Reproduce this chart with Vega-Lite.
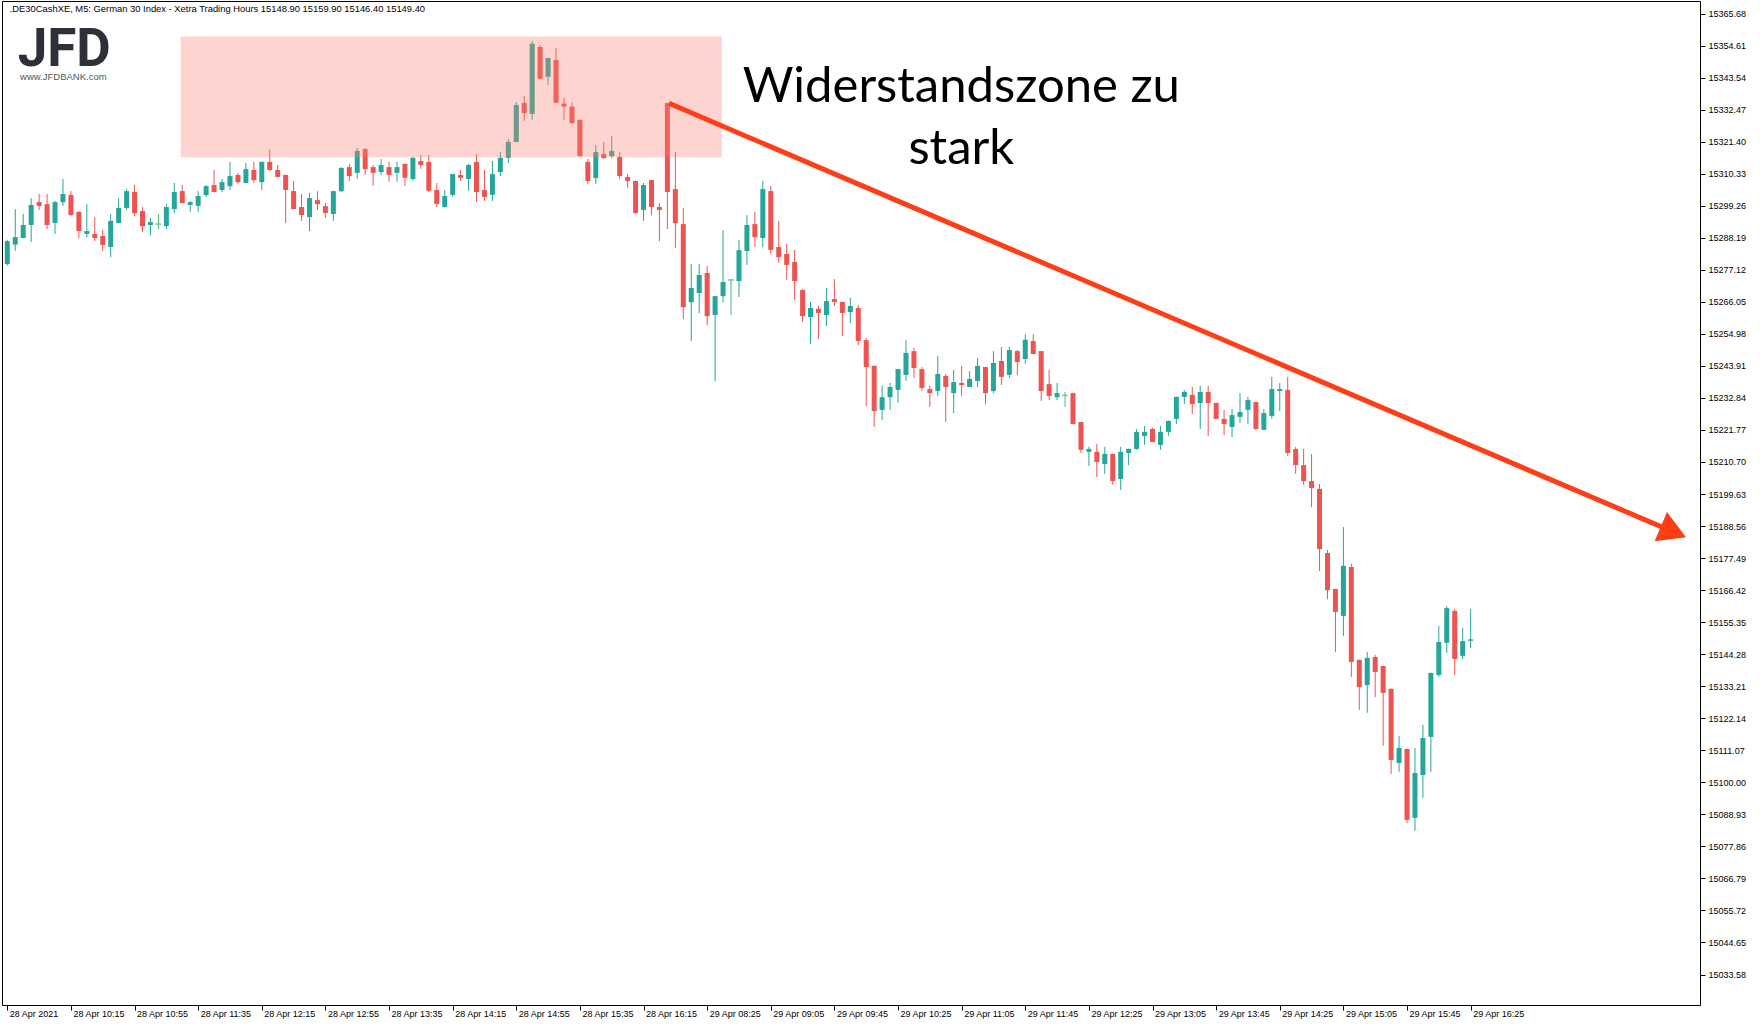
{
"$schema":"https://vega.github.io/schema/vega-lite/v6.json",
"width":1698,"height":1004,
"autosize":{"type":"none"},
"padding":{"left":2,"top":1,"right":60,"bottom":21},
"background":"white",
"config":{"view":{"stroke":"#000","strokeWidth":1},"axis":{"labelFont":"Liberation Sans","labelFontSize":9,"labelColor":"#000","tickColor":"#000","grid":false,"domain":false,"labelOverlap":false}},
"resolve":{"axis":{"x":"independent","y":"independent"}},
"data":{"values":[
{"i":0,"o":15279.1,"h":15287.5,"l":15278.6,"c":15287.0},
{"i":1,"o":15285.8,"h":15298.1,"l":15283.7,"c":15288.4},
{"i":2,"o":15288.1,"h":15296.4,"l":15288.0,"c":15292.6},
{"i":3,"o":15292.6,"h":15301.9,"l":15286.7,"c":15299.5},
{"i":4,"o":15300.5,"h":15303.3,"l":15297.8,"c":15299.2},
{"i":5,"o":15299.8,"h":15303.3,"l":15291.2,"c":15292.6},
{"i":6,"o":15293.3,"h":15300.9,"l":15289.5,"c":15300.5},
{"i":7,"o":15300.5,"h":15308.5,"l":15299.2,"c":15303.3},
{"i":8,"o":15303.0,"h":15304.3,"l":15295.8,"c":15296.0},
{"i":9,"o":15297.1,"h":15297.4,"l":15288.1,"c":15290.5},
{"i":10,"o":15289.5,"h":15299.8,"l":15288.4,"c":15290.5},
{"i":11,"o":15289.5,"h":15295.3,"l":15287.0,"c":15288.1},
{"i":12,"o":15288.8,"h":15290.9,"l":15283.6,"c":15285.7},
{"i":13,"o":15285.0,"h":15296.4,"l":15281.5,"c":15294.0},
{"i":14,"o":15293.3,"h":15301.9,"l":15293.3,"c":15298.5},
{"i":15,"o":15298.5,"h":15305.0,"l":15297.8,"c":15304.3},
{"i":16,"o":15304.0,"h":15306.4,"l":15295.7,"c":15296.7},
{"i":17,"o":15297.4,"h":15298.8,"l":15290.2,"c":15292.2},
{"i":18,"o":15292.6,"h":15295.0,"l":15289.1,"c":15293.6},
{"i":19,"o":15292.9,"h":15296.4,"l":15291.2,"c":15292.9},
{"i":20,"o":15292.2,"h":15299.8,"l":15291.2,"c":15298.8},
{"i":21,"o":15298.1,"h":15307.1,"l":15296.7,"c":15304.0},
{"i":22,"o":15304.3,"h":15306.4,"l":15300.1,"c":15300.2},
{"i":23,"o":15299.5,"h":15300.9,"l":15297.1,"c":15300.5},
{"i":24,"o":15299.2,"h":15304.3,"l":15297.1,"c":15302.6},
{"i":25,"o":15302.9,"h":15306.4,"l":15302.3,"c":15306.0},
{"i":26,"o":15306.4,"h":15311.6,"l":15303.9,"c":15304.0},
{"i":27,"o":15304.7,"h":15308.5,"l":15304.0,"c":15307.4},
{"i":28,"o":15306.0,"h":15314.4,"l":15304.7,"c":15309.5},
{"i":29,"o":15309.9,"h":15310.6,"l":15306.8,"c":15307.4},
{"i":30,"o":15307.1,"h":15314.0,"l":15307.0,"c":15311.9},
{"i":31,"o":15311.6,"h":15314.4,"l":15307.1,"c":15308.1},
{"i":32,"o":15307.4,"h":15314.5,"l":15304.7,"c":15314.4},
{"i":33,"o":15314.4,"h":15318.8,"l":15311.2,"c":15311.6},
{"i":34,"o":15311.6,"h":15313.3,"l":15309.1,"c":15309.2},
{"i":35,"o":15309.9,"h":15310.0,"l":15293.3,"c":15304.7},
{"i":36,"o":15304.3,"h":15307.8,"l":15298.0,"c":15298.1},
{"i":37,"o":15298.8,"h":15303.3,"l":15294.0,"c":15296.0},
{"i":38,"o":15295.3,"h":15303.6,"l":15290.5,"c":15301.9},
{"i":39,"o":15301.2,"h":15304.3,"l":15297.8,"c":15299.8},
{"i":40,"o":15299.1,"h":15300.2,"l":15295.0,"c":15296.7},
{"i":41,"o":15296.4,"h":15304.4,"l":15294.0,"c":15304.3},
{"i":42,"o":15304.3,"h":15312.6,"l":15304.0,"c":15312.3},
{"i":43,"o":15312.6,"h":15313.7,"l":15307.8,"c":15309.5},
{"i":44,"o":15310.6,"h":15319.2,"l":15308.5,"c":15318.2},
{"i":45,"o":15318.8,"h":15319.2,"l":15309.9,"c":15311.9},
{"i":46,"o":15312.6,"h":15313.3,"l":15306.1,"c":15310.6},
{"i":47,"o":15310.9,"h":15315.4,"l":15309.9,"c":15313.3},
{"i":48,"o":15312.6,"h":15314.4,"l":15307.5,"c":15309.9},
{"i":49,"o":15310.6,"h":15314.4,"l":15307.5,"c":15312.6},
{"i":50,"o":15313.7,"h":15313.8,"l":15306.1,"c":15308.9},
{"i":51,"o":15308.5,"h":15316.1,"l":15307.8,"c":15315.8},
{"i":52,"o":15314.7,"h":15316.8,"l":15312.0,"c":15313.3},
{"i":53,"o":15314.4,"h":15316.8,"l":15304.0,"c":15304.4},
{"i":54,"o":15304.7,"h":15307.1,"l":15298.8,"c":15299.9},
{"i":55,"o":15298.8,"h":15304.7,"l":15298.7,"c":15302.6},
{"i":56,"o":15303.0,"h":15310.3,"l":15302.3,"c":15310.2},
{"i":57,"o":15309.9,"h":15311.6,"l":15307.8,"c":15308.9},
{"i":58,"o":15308.5,"h":15313.7,"l":15304.4,"c":15313.3},
{"i":59,"o":15314.4,"h":15317.1,"l":15300.6,"c":15304.0},
{"i":60,"o":15304.7,"h":15311.6,"l":15300.9,"c":15302.3},
{"i":61,"o":15303.0,"h":15314.7,"l":15300.9,"c":15310.2},
{"i":62,"o":15310.9,"h":15317.8,"l":15309.5,"c":15315.8},
{"i":63,"o":15315.8,"h":15322.3,"l":15314.0,"c":15321.3},
{"i":64,"o":15321.3,"h":15335.1,"l":15321.2,"c":15334.1},
{"i":65,"o":15334.8,"h":15337.2,"l":15328.6,"c":15331.3},
{"i":66,"o":15331.0,"h":15356.2,"l":15328.9,"c":15355.2},
{"i":67,"o":15354.1,"h":15354.8,"l":15343.0,"c":15343.1},
{"i":68,"o":15343.8,"h":15350.4,"l":15341.0,"c":15350.3},
{"i":69,"o":15349.6,"h":15353.8,"l":15334.7,"c":15334.8},
{"i":70,"o":15334.5,"h":15336.5,"l":15329.0,"c":15333.5},
{"i":71,"o":15333.5,"h":15335.0,"l":15327.6,"c":15327.8},
{"i":72,"o":15328.9,"h":15329.2,"l":15316.2,"c":15316.4},
{"i":73,"o":15314.4,"h":15315.4,"l":15306.8,"c":15307.8},
{"i":74,"o":15308.8,"h":15320.2,"l":15306.8,"c":15317.8},
{"i":75,"o":15317.1,"h":15321.3,"l":15315.6,"c":15315.7},
{"i":76,"o":15316.4,"h":15323.3,"l":15315.7,"c":15318.2},
{"i":77,"o":15316.1,"h":15317.8,"l":15308.5,"c":15309.5},
{"i":78,"o":15309.2,"h":15310.2,"l":15305.4,"c":15307.8},
{"i":79,"o":15307.8,"h":15308.0,"l":15296.5,"c":15296.7},
{"i":80,"o":15297.8,"h":15307.1,"l":15294.0,"c":15306.4},
{"i":81,"o":15308.1,"h":15308.2,"l":15296.0,"c":15298.8},
{"i":82,"o":15298.8,"h":15300.2,"l":15287.0,"c":15297.8},
{"i":83,"o":15334.7,"h":15334.9,"l":15291.2,"c":15304.0},
{"i":84,"o":15305.0,"h":15317.8,"l":15284.6,"c":15293.2},
{"i":85,"o":15292.9,"h":15298.4,"l":15260.1,"c":15264.2},
{"i":86,"o":15265.9,"h":15279.1,"l":15252.5,"c":15270.8},
{"i":87,"o":15269.1,"h":15279.1,"l":15262.1,"c":15275.3},
{"i":88,"o":15276.0,"h":15278.4,"l":15258.0,"c":15261.1},
{"i":89,"o":15261.5,"h":15268.1,"l":15238.6,"c":15268.0},
{"i":90,"o":15268.0,"h":15290.8,"l":15265.9,"c":15272.9},
{"i":91,"o":15273.6,"h":15274.0,"l":15261.5,"c":15273.6},
{"i":92,"o":15273.2,"h":15287.4,"l":15267.7,"c":15283.9},
{"i":93,"o":15283.6,"h":15296.0,"l":15278.8,"c":15292.6},
{"i":94,"o":15292.9,"h":15297.1,"l":15285.0,"c":15288.4},
{"i":95,"o":15288.1,"h":15307.8,"l":15285.0,"c":15305.0},
{"i":96,"o":15304.3,"h":15306.1,"l":15282.6,"c":15284.0},
{"i":97,"o":15285.0,"h":15294.0,"l":15279.5,"c":15281.5},
{"i":98,"o":15282.6,"h":15286.0,"l":15273.6,"c":15278.8},
{"i":99,"o":15279.8,"h":15284.0,"l":15266.7,"c":15273.2},
{"i":100,"o":15270.1,"h":15270.5,"l":15259.1,"c":15261.1},
{"i":101,"o":15260.8,"h":15266.0,"l":15251.5,"c":15263.9},
{"i":102,"o":15263.6,"h":15264.6,"l":15253.2,"c":15262.2},
{"i":103,"o":15261.5,"h":15270.8,"l":15257.7,"c":15266.3},
{"i":104,"o":15267.0,"h":15273.9,"l":15264.6,"c":15266.0},
{"i":105,"o":15266.0,"h":15266.1,"l":15254.2,"c":15262.2},
{"i":106,"o":15262.5,"h":15267.4,"l":15258.7,"c":15264.6},
{"i":107,"o":15263.9,"h":15264.9,"l":15251.1,"c":15252.5},
{"i":108,"o":15252.8,"h":15253.5,"l":15230.0,"c":15243.5},
{"i":109,"o":15243.9,"h":15244.0,"l":15222.8,"c":15228.3},
{"i":110,"o":15228.7,"h":15237.0,"l":15225.2,"c":15233.1},
{"i":111,"o":15233.1,"h":15238.0,"l":15228.7,"c":15236.6},
{"i":112,"o":15235.6,"h":15242.9,"l":15231.1,"c":15242.8},
{"i":113,"o":15240.8,"h":15252.8,"l":15238.7,"c":15248.4},
{"i":114,"o":15249.0,"h":15250.1,"l":15239.7,"c":15243.2},
{"i":115,"o":15242.8,"h":15243.5,"l":15235.2,"c":15236.3},
{"i":116,"o":15235.9,"h":15237.0,"l":15229.7,"c":15234.5},
{"i":117,"o":15235.2,"h":15247.3,"l":15233.5,"c":15241.1},
{"i":118,"o":15240.4,"h":15241.1,"l":15224.5,"c":15236.6},
{"i":119,"o":15234.5,"h":15242.5,"l":15227.6,"c":15238.3},
{"i":120,"o":15238.0,"h":15243.9,"l":15233.5,"c":15237.3},
{"i":121,"o":15236.6,"h":15242.1,"l":15236.5,"c":15239.4},
{"i":122,"o":15238.7,"h":15246.6,"l":15236.6,"c":15243.9},
{"i":123,"o":15243.5,"h":15243.6,"l":15230.7,"c":15234.5},
{"i":124,"o":15235.2,"h":15249.0,"l":15234.5,"c":15244.9},
{"i":125,"o":15245.6,"h":15250.4,"l":15237.3,"c":15240.1},
{"i":126,"o":15240.8,"h":15250.4,"l":15239.7,"c":15249.4},
{"i":127,"o":15249.0,"h":15249.4,"l":15240.8,"c":15245.2},
{"i":128,"o":15246.3,"h":15254.9,"l":15244.6,"c":15252.9},
{"i":129,"o":15252.5,"h":15254.9,"l":15247.9,"c":15248.0},
{"i":130,"o":15249.0,"h":15249.1,"l":15231.8,"c":15235.2},
{"i":131,"o":15237.6,"h":15242.5,"l":15232.1,"c":15233.5},
{"i":132,"o":15233.1,"h":15238.0,"l":15232.1,"c":15234.5},
{"i":133,"o":15233.7,"h":15234.9,"l":15229.7,"c":15233.7},
{"i":134,"o":15234.5,"h":15234.6,"l":15223.7,"c":15223.8},
{"i":135,"o":15224.5,"h":15224.6,"l":15213.8,"c":15214.9},
{"i":136,"o":15214.2,"h":15215.9,"l":15209.3,"c":15215.2},
{"i":137,"o":15214.2,"h":15216.9,"l":15205.5,"c":15210.7},
{"i":138,"o":15210.0,"h":15215.9,"l":15206.6,"c":15213.5},
{"i":139,"o":15213.5,"h":15213.6,"l":15202.8,"c":15204.1},
{"i":140,"o":15204.8,"h":15215.9,"l":15201.0,"c":15214.2},
{"i":141,"o":15213.8,"h":15215.3,"l":15209.6,"c":15215.2},
{"i":142,"o":15215.2,"h":15222.1,"l":15214.9,"c":15221.1},
{"i":143,"o":15219.7,"h":15223.1,"l":15216.6,"c":15221.1},
{"i":144,"o":15222.1,"h":15222.5,"l":15217.5,"c":15217.6},
{"i":145,"o":15216.6,"h":15223.1,"l":15214.9,"c":15221.1},
{"i":146,"o":15221.1,"h":15225.0,"l":15219.7,"c":15224.9},
{"i":147,"o":15225.6,"h":15233.3,"l":15223.8,"c":15233.2},
{"i":148,"o":15233.2,"h":15235.6,"l":15230.7,"c":15234.9},
{"i":149,"o":15233.9,"h":15236.6,"l":15227.3,"c":15230.7},
{"i":150,"o":15231.1,"h":15237.0,"l":15222.1,"c":15234.9},
{"i":151,"o":15234.9,"h":15237.0,"l":15219.7,"c":15231.1},
{"i":152,"o":15231.1,"h":15231.2,"l":15225.5,"c":15225.6},
{"i":153,"o":15225.6,"h":15228.7,"l":15220.0,"c":15223.8},
{"i":154,"o":15222.8,"h":15229.0,"l":15219.3,"c":15226.9},
{"i":155,"o":15226.3,"h":15234.5,"l":15224.2,"c":15228.0},
{"i":156,"o":15228.7,"h":15233.2,"l":15223.8,"c":15232.1},
{"i":157,"o":15231.4,"h":15231.5,"l":15221.7,"c":15222.1},
{"i":158,"o":15221.8,"h":15229.0,"l":15221.7,"c":15227.6},
{"i":159,"o":15226.6,"h":15240.1,"l":15225.6,"c":15235.9},
{"i":160,"o":15235.2,"h":15238.0,"l":15228.3,"c":15235.9},
{"i":161,"o":15235.6,"h":15240.1,"l":15212.8,"c":15213.8},
{"i":162,"o":15215.2,"h":15215.9,"l":15206.6,"c":15209.6},
{"i":163,"o":15209.6,"h":15215.2,"l":15202.8,"c":15204.1},
{"i":164,"o":15204.1,"h":15213.5,"l":15195.1,"c":15201.7},
{"i":165,"o":15201.4,"h":15203.1,"l":15173.0,"c":15180.6},
{"i":166,"o":15179.2,"h":15180.3,"l":15163.3,"c":15166.4},
{"i":167,"o":15166.8,"h":15166.9,"l":15145.0,"c":15158.9},
{"i":168,"o":15157.5,"h":15188.2,"l":15150.6,"c":15174.8},
{"i":169,"o":15174.4,"h":15175.5,"l":15136.4,"c":15141.6},
{"i":170,"o":15142.3,"h":15142.4,"l":15125.0,"c":15132.9},
{"i":171,"o":15133.6,"h":15145.0,"l":15124.0,"c":15143.0},
{"i":172,"o":15143.3,"h":15144.0,"l":15129.5,"c":15138.1},
{"i":173,"o":15140.2,"h":15140.3,"l":15112.6,"c":15130.9},
{"i":174,"o":15132.3,"h":15132.4,"l":15102.9,"c":15107.7},
{"i":175,"o":15106.7,"h":15116.0,"l":15103.6,"c":15111.9},
{"i":176,"o":15111.5,"h":15111.6,"l":15085.9,"c":15087.0},
{"i":177,"o":15087.7,"h":15111.9,"l":15083.2,"c":15103.2},
{"i":178,"o":15102.5,"h":15119.8,"l":15094.6,"c":15115.3},
{"i":179,"o":15115.7,"h":15137.9,"l":15103.6,"c":15137.8},
{"i":180,"o":15137.1,"h":15154.0,"l":15136.4,"c":15148.5},
{"i":181,"o":15148.2,"h":15160.9,"l":15144.7,"c":15160.2},
{"i":182,"o":15159.2,"h":15159.9,"l":15137.1,"c":15142.6},
{"i":183,"o":15143.7,"h":15153.3,"l":15142.6,"c":15148.8},
{"i":184,"o":15148.9,"h":15159.9,"l":15146.4,"c":15149.4}
]},
"layer":[
{"mark":{"type":"rule","strokeWidth":1},
 "encoding":{
  "x":{"field":"i","type":"quantitative","scale":{"domain":[-0.0375,212.2125],"nice":false,"zero":false},
       "axis":{"orient":"bottom","title":null,"values":[0,8,16,24,32,40,48,56,64,72,80,88,96,104,112,120,128,136,144,152,160,168,176,184],
               "labelExpr":"['28 Apr 2021','28 Apr 10:15','28 Apr 10:55','28 Apr 11:35','28 Apr 12:15','28 Apr 12:55','28 Apr 13:35','28 Apr 14:15','28 Apr 14:55','28 Apr 15:35','28 Apr 16:15','29 Apr 08:25','29 Apr 09:05','29 Apr 09:45','29 Apr 10:25','29 Apr 11:05','29 Apr 11:45','29 Apr 12:25','29 Apr 13:05','29 Apr 13:45','29 Apr 14:25','29 Apr 15:05','29 Apr 15:45','29 Apr 16:25'][round(datum.value/8)]",
               "labelAlign":"left","labelBaseline":"top","labelPadding":-1,"labelOffset":2,"tickSize":5,"labelOverlap":false,"labelFlush":false}},
  "y":{"field":"l","type":"quantitative","scale":{"domain":[15023.04,15370.0],"nice":false,"zero":false},
       "axis":{"orient":"right","title":null,"values":[15033.58,15044.65,15055.72,15066.79,15077.86,15088.93,15100.00,15111.07,15122.14,15133.21,15144.28,15155.35,15166.42,15177.49,15188.56,15199.63,15210.70,15221.77,15232.84,15243.91,15254.98,15266.05,15277.12,15288.19,15299.26,15310.33,15321.40,15332.47,15343.54,15354.61,15365.68],
               "format":".2f","labelAlign":"left","labelBaseline":"middle","labelPadding":3,"tickSize":5,"labelOverlap":false,"labelFlush":false,"labelBound":false}},
  "y2":{"field":"h"},
  "color":{"condition":[{"test":"datum.c>datum.o","value":"#26a69a"},{"test":"datum.c<datum.o","value":"#ef5350"}],"value":"#4cb87a"}
 }},
{"mark":{"type":"bar","size":5},
 "encoding":{
  "x":{"field":"i","type":"quantitative","axis":null},
  "y":{"field":"o","type":"quantitative","axis":null},
  "y2":{"field":"c"},
  "color":{"condition":[{"test":"datum.c>datum.o","value":"#26a69a"},{"test":"datum.c<datum.o","value":"#ef5350"}],"value":"#4cb87a"}
 }},
{"transform":[{"filter":"datum.o==datum.c"}],
 "mark":{"type":"tick","orient":"horizontal","size":6,"thickness":1.5,"color":"#4cb87a"},
 "encoding":{"x":{"field":"i","type":"quantitative","axis":null},"y":{"field":"o","type":"quantitative","axis":null}}},
{"data":{"values":[{}]},
 "mark":{"type":"rect","color":"#fa8072","opacity":0.34},
 "encoding":{"x":{"datum":21.8,"type":"quantitative","axis":null},"x2":{"datum":89.84},"y":{"datum":15357.73,"type":"quantitative","axis":null},"y2":{"datum":15316.0}}},
{"data":{"values":[{}]},
 "mark":{"type":"rule","color":"#ff3d17","strokeWidth":5,"strokeCap":"butt"},
 "encoding":{"x":{"datum":83.2,"type":"quantitative","axis":null},"x2":{"datum":209.6},"y":{"datum":15334.65,"type":"quantitative","axis":null},"y2":{"datum":15186.4}}},
{"data":{"values":[{}]},
 "mark":{"type":"point","shape":"triangle-right","filled":true,"color":"#ff3d17","opacity":1,"size":1000,"angle":23},
 "encoding":{"x":{"datum":209.5,"type":"quantitative","axis":null},"y":{"datum":15186.5,"type":"quantitative","axis":null}}},
{"data":{"values":[{}]},
 "mark":{"type":"text","text":["Widerstandszone zu","stark"],"align":"center","baseline":"middle","font":"Lato","fontSize":49,"lineHeight":62,"color":"#000"},
 "encoding":{"x":{"datum":119.96,"type":"quantitative","axis":null},"y":{"datum":15340.11,"type":"quantitative","axis":null}}},
{"data":{"values":[{}]},
 "mark":{"type":"text","text":".DE30CashXE, M5:  German 30 Index  - Xetra Trading Hours  15148.90 15159.90 15146.40 15149.40","align":"left","baseline":"middle","font":"Liberation Sans","fontSize":9.4,"color":"#000"},
 "encoding":{"x":{"datum":0.3,"type":"quantitative","axis":null},"y":{"datum":15367.3,"type":"quantitative","axis":null}}},
{"data":{"values":[{}]},
 "mark":{"type":"text","text":"JFD","align":"left","baseline":"alphabetic","font":"Roboto","fontWeight":"bold","fontSize":53,"color":"#2c3038"},
 "encoding":{"x":{"datum":1.3,"type":"quantitative","axis":null},"y":{"datum":15347.4,"type":"quantitative","axis":null}}},
{"data":{"values":[{}]},
 "mark":{"type":"text","text":"www.JFDBANK.com","align":"left","baseline":"middle","font":"Liberation Sans","fontSize":9.5,"color":"#555"},
 "encoding":{"x":{"datum":1.6,"type":"quantitative","axis":null},"y":{"datum":15343.9,"type":"quantitative","axis":null}}}
]
}
